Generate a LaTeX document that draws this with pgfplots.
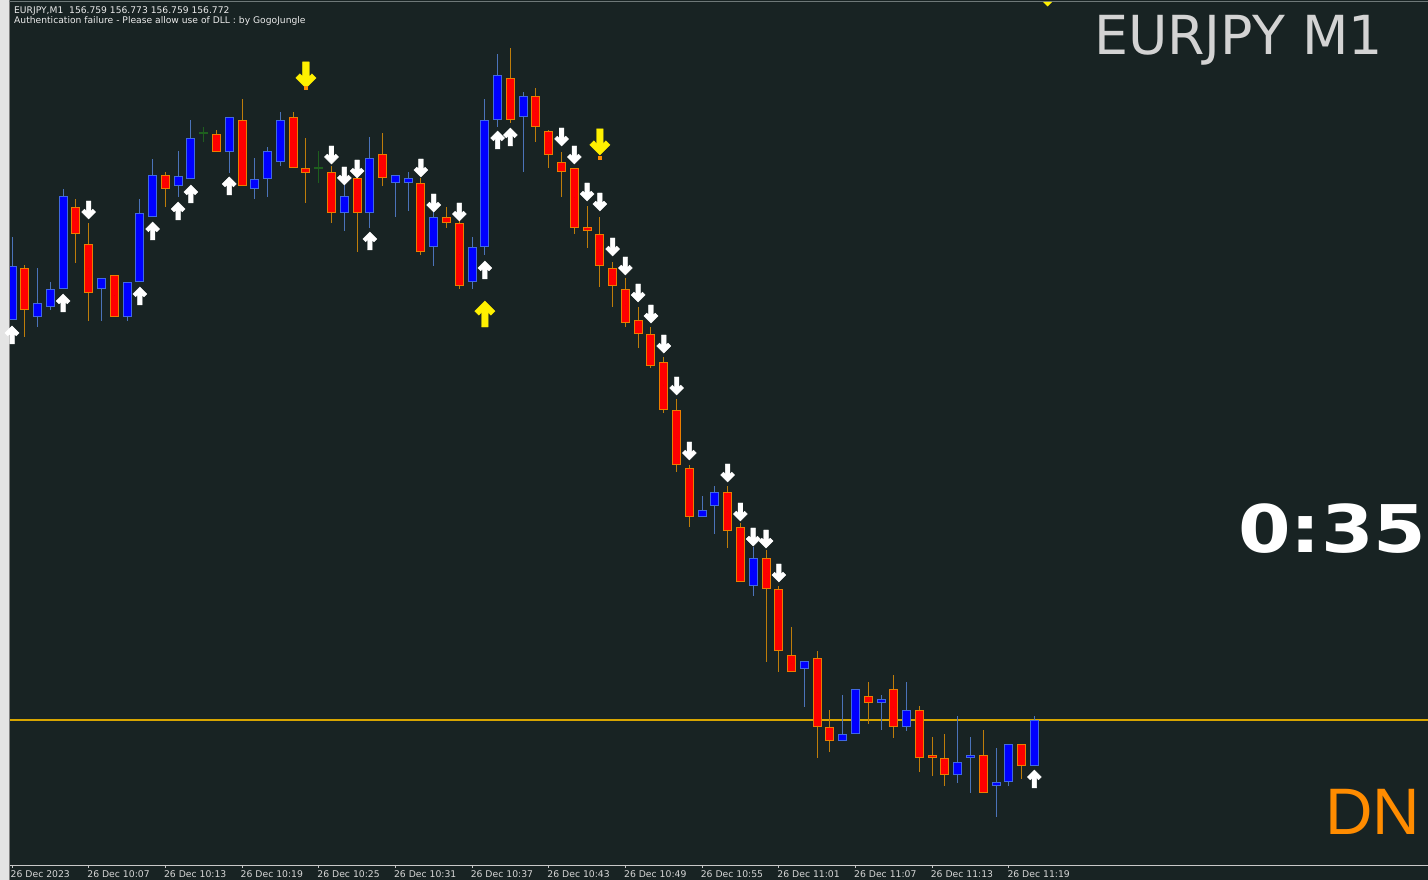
\documentclass[border=0pt]{standalone}
\usepackage{pgfplots}
\pgfplotsset{compat=1.18}
\usepackage{pgfplotstable}
\usepackage{graphicx}
\usepackage{fontspec}
\setmainfont{DejaVu Sans}
\newfontfamily\libsans{Liberation Sans}

\definecolor{bg}{RGB}{24,35,35}
\definecolor{bullbody}{RGB}{0,0,255}
\definecolor{bullborder}{RGB}{65,105,225}
\definecolor{bullwick}{RGB}{75,115,185}
\definecolor{bearbody}{RGB}{255,0,0}
\definecolor{bearborder}{RGB}{235,125,0}
\definecolor{bearwick}{RGB}{190,125,10}
\definecolor{dojicol}{RGB}{30,95,30}
\definecolor{goldline}{RGB}{215,165,0}
\definecolor{axisgrey}{RGB}{200,200,200}
\definecolor{labelgrey}{RGB}{215,215,215}
\definecolor{toptext}{RGB}{235,235,235}
\definecolor{titlegrey}{RGB}{211,211,211}
\definecolor{strip}{RGB}{228,228,228}
\definecolor{dnorange}{RGB}{255,140,0}
\definecolor{arrowyellow}{RGB}{255,240,0}

\pgfdeclareplotmark{arrup}{%
  \pgfpathmoveto{\pgfpoint{-2.3bp}{-9bp}}%
  \pgfpathlineto{\pgfpoint{2.3bp}{-9bp}}%
  \pgfpathlineto{\pgfpoint{2.3bp}{1.14bp}}%
  \pgfpathlineto{\pgfpoint{4.17bp}{-0.83bp}}%
  \pgfpathlineto{\pgfpoint{7bp}{2bp}}%
  \pgfpathlineto{\pgfpoint{0bp}{9bp}}%
  \pgfpathlineto{\pgfpoint{-7bp}{2bp}}%
  \pgfpathlineto{\pgfpoint{-4.17bp}{-0.83bp}}%
  \pgfpathlineto{\pgfpoint{-2.3bp}{1.14bp}}%
  \pgfpathclose
  \pgfusepathqfillstroke}
\pgfdeclareplotmark{arrdn}{%
  \pgfpathmoveto{\pgfpoint{-2.3bp}{9bp}}%
  \pgfpathlineto{\pgfpoint{2.3bp}{9bp}}%
  \pgfpathlineto{\pgfpoint{2.3bp}{-1.14bp}}%
  \pgfpathlineto{\pgfpoint{4.17bp}{0.83bp}}%
  \pgfpathlineto{\pgfpoint{7bp}{-2bp}}%
  \pgfpathlineto{\pgfpoint{0bp}{-9bp}}%
  \pgfpathlineto{\pgfpoint{-7bp}{-2bp}}%
  \pgfpathlineto{\pgfpoint{-4.17bp}{0.83bp}}%
  \pgfpathlineto{\pgfpoint{-2.3bp}{-1.14bp}}%
  \pgfpathclose
  \pgfusepathqfillstroke}

\pgfplotsset{candle/.style={only marks, mark=*, mark size=0pt, mark options={draw=none, fill=none}}}

% candle values: vertical positions read off the chart (screen units, larger = lower price)
\pgfplotstableread{
i O H L C
1 320 237 320 266
3 317 268 327 303
4 307 282 310 289
5 289 189 289 196
8 289 278 321 278
10 317 282 321 282
11 282 199 282 213
12 217 159 217 175
14 186 151 197 176
15 179 120 179 138
18 152 117 173 117
20 189 158 199 179
21 179 147 197 151
22 162 112 166 120
27 213 185 231 196
29 213 137 228 158
31 183 175 217 175
32 183 172 211 178
34 247 211 266 217
37 282 237 289 247
38 247 99 255 120
39 120 54 127 75
41 117 92 172 96
55 517 496 517 510
56 506 486 534 492
59 586 547 596 558
63 669 661 707 661
66 741 695 741 734
67 734 689 734 689
69 703 695 730 699
71 727 682 731 710
75 775 716 783 762
76 758 737 793 755
78 786 748 817 782
79 782 744 786 744
81 766 716 766 720
}\bull

\pgfplotstableread{
i O H L C
2 268 265 337 310
6 207 199 263 234
7 244 223 321 293
9 275 275 317 317
13 175 172 207 189
17 134 130 152 152
19 120 99 186 186
23 117 112 168 168
24 168 138 203 173
26 172 166 223 213
28 178 173 252 213
30 154 133 186 178
33 183 178 255 252
35 217 207 228 223
36 223 221 289 286
40 78 48 123 120
42 96 88 142 127
43 131 130 168 155
44 162 152 197 172
45 168 168 234 228
46 227 206 248 231
47 234 217 287 266
48 268 262 307 286
49 289 278 327 323
50 320 307 348 334
51 334 327 368 366
52 362 357 413 410
53 410 399 472 465
54 468 465 527 517
57 492 486 548 531
58 527 523 582 582
60 558 550 662 589
61 589 586 672 651
62 655 627 672 672
64 658 651 758 727
65 727 710 752 741
68 696 682 724 703
70 689 675 738 727
72 710 706 772 758
73 755 737 776 758
74 758 734 786 775
77 755 730 793 793
80 744 744 779 766
}\bear

\pgfplotstableread{
i O H L
16 133 127 142
25 168 151 183
}\doji

\pgfplotstableread{
i y
1 335
5 303
11 296
12 231
14 211
15 194
18 186
29 241
38 270
39 140
40 137
81 779
}\wup

\pgfplotstableread{
i y
7 210
26 155
27 176
28 169
33 168
34 203
36 212
44 137
45 155
46 192
47 202
48 247
49 266
50 293
51 314
52 344
53 386
54 451
57 473
58 512
59 537
60 539
61 573
}\wdn

\pgfplotstableread{
i y
24 75
47 142
}\ydn

\pgfplotstableread{
i y
38 314
}\yup

\pgfplotstableread{
i y
24 88
47 158
}\odots

\begin{document}
\begin{tikzpicture}
\fill[bg] (0,0) rectangle (1428bp,880bp);
\fill[strip] (0,0) rectangle (9bp,880bp);
\draw[gray, line width=1bp] (9.5bp,0) -- (9.5bp,880bp);
\draw[color={rgb,255:red,110;green,120;blue,120}, line width=1bp] (9bp,878.5bp) -- (1428bp,878.5bp);

\begin{axis}[
  at={(10bp,15bp)}, anchor=south west,
  scale only axis, width=1418bp, height=863bp,
  xmin=0.8435, xmax=111.8, ymin=15, ymax=878,
  axis y line=none, axis x line*=bottom,
  x axis line style={draw=axisgrey, line width=1bp},
  xtick={1,7,...,79},
  xticklabels={26 Dec 2023, 26 Dec 10:07, 26 Dec 10:13, 26 Dec 10:19, 26 Dec 10:25, 26 Dec 10:31, 26 Dec 10:37, 26 Dec 10:43, 26 Dec 10:49, 26 Dec 10:55, 26 Dec 11:01, 26 Dec 11:07, 26 Dec 11:13, 26 Dec 11:19},
  major tick length=3bp, tick align=outside,
  x tick style={draw=axisgrey, line width=1bp},
  x tick label style={font=\fontsize{9.3}{10}\selectfont, text=labelgrey, anchor=north west, inner sep=0pt, xshift=-1.5bp, yshift=-2.5bp},
  clip=true,
]
% price level line
\addplot[draw=goldline, line width=1.1bp] coordinates {(0.8435,160) (111.8,160)};

% wicks
\addplot[candle, error bars/.cd, y dir=both, y explicit, error mark=none,
  error bar style={line width=1bp, color=bullwick}]
  table[x=i, y expr={880-(\thisrow{H}+\thisrow{L})/2}, y error expr={(\thisrow{L}-\thisrow{H})/2}] {\bull};
\addplot[candle, error bars/.cd, y dir=both, y explicit, error mark=none,
  error bar style={line width=1bp, color=bearwick}]
  table[x=i, y expr={880-(\thisrow{H}+\thisrow{L})/2}, y error expr={(\thisrow{L}-\thisrow{H})/2}] {\bear};
\addplot[candle, error bars/.cd, y dir=both, y explicit, error mark=none,
  error bar style={line width=1.2bp, color=dojicol}]
  table[x=i, y expr={880-(\thisrow{H}+\thisrow{L})/2}, y error expr={(\thisrow{L}-\thisrow{H})/2}] {\doji};
\addplot[candle, error bars/.cd, x dir=both, x fixed=0.36, error mark=none,
  error bar style={line width=1.2bp, color=dojicol}]
  table[x=i, y expr={880-\thisrow{O}}] {\doji};

% bodies: outline then fill
\addplot[candle, error bars/.cd, y dir=both, y explicit, error mark=none,
  error bar style={line width=9bp, color=bullborder}]
  table[x=i, y expr={880-(\thisrow{O}+\thisrow{C})/2}, y error expr={abs(\thisrow{O}-\thisrow{C})/2}] {\bull};
\addplot[candle, error bars/.cd, y dir=both, y explicit, error mark=none,
  error bar style={line width=7bp, color=bullbody}]
  table[x=i, y expr={880-(\thisrow{O}+\thisrow{C})/2}, y error expr={max(abs(\thisrow{O}-\thisrow{C})/2-1,0.6)}] {\bull};
\addplot[candle, error bars/.cd, y dir=both, y explicit, error mark=none,
  error bar style={line width=9bp, color=bearborder}]
  table[x=i, y expr={880-(\thisrow{O}+\thisrow{C})/2}, y error expr={abs(\thisrow{O}-\thisrow{C})/2}] {\bear};
\addplot[candle, error bars/.cd, y dir=both, y explicit, error mark=none,
  error bar style={line width=7bp, color=bearbody}]
  table[x=i, y expr={880-(\thisrow{O}+\thisrow{C})/2}, y error expr={max(abs(\thisrow{O}-\thisrow{C})/2-1,0.6)}] {\bear};

% signal arrows
\addplot[only marks, mark=arrup, mark options={fill=white, draw=white, line width=0.4bp}]
  table[x=i, y expr={880-\thisrow{y}}] {\wup};
\addplot[only marks, mark=arrdn, mark options={fill=white, draw=white, line width=0.4bp}]
  table[x=i, y expr={880-\thisrow{y}}] {\wdn};
\addplot[only marks, mark=arrdn, mark options={fill=arrowyellow, draw=arrowyellow, line width=0.4bp, scale=1.45}]
  table[x=i, y expr={880-\thisrow{y}}] {\ydn};
\addplot[only marks, mark=arrup, mark options={fill=arrowyellow, draw=arrowyellow, line width=0.4bp, scale=1.45}]
  table[x=i, y expr={880-\thisrow{y}}] {\yup};
\addplot[only marks, mark=square*, mark size=1.3bp, mark options={fill=dnorange, draw=dnorange}]
  table[x=i, y expr={880-\thisrow{y}}] {\odots};
\end{axis}

% current-bar marker at the top
\fill[arrowyellow] (1043bp,878bp) -- (1052bp,878bp) -- (1047.5bp,873.5bp) -- cycle;

\node[anchor=base west, inner sep=0pt, text=toptext, font=\fontsize{9.2}{10}\selectfont] at (14bp,866.5bp) {EURJPY,M1\ \ 156.759 156.773 156.759 156.772};
\node[anchor=base west, inner sep=0pt, text=toptext, font=\fontsize{9.2}{10}\selectfont] at (14bp,856.5bp) {Authentication failure - Please allow use of DLL : by GogoJungle};

\node[anchor=base west, inner sep=0pt, text=titlegrey, font=\fontsize{54}{54}\selectfont] at (1094bp,825bp) {EURJPY M1};
\node[anchor=base west, inner sep=0pt, text=white, font=\fontsize{66}{66}\selectfont\bfseries] at (1238bp,327bp) {\scalebox{1.15}[1]{0:35}};
\node[anchor=base west, inner sep=0pt, text=dnorange, font=\libsans\fontsize{66}{66}\selectfont] at (1325bp,45bp) {DN};

\pgfresetboundingbox
\path[use as bounding box] (0,0) rectangle (1428bp,880bp);
\end{tikzpicture}
\end{document}
